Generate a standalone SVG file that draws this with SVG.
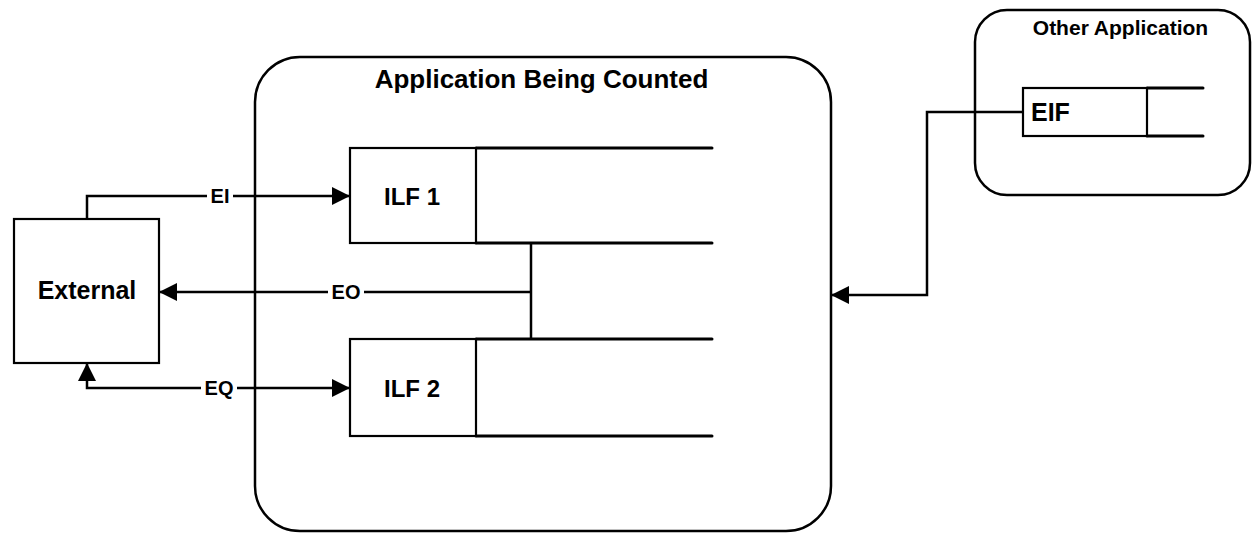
<svg xmlns="http://www.w3.org/2000/svg" width="1252" height="533" viewBox="0 0 1252 533">
  <style>
    text { font-family: "Liberation Sans", Arial, sans-serif; font-weight: bold; fill: #000; }
    .frame { fill: none; stroke: #000; stroke-width: 2.5; }
    .box { fill: #fff; stroke: #000; stroke-width: 2.2; }
    .store { fill: none; stroke: #000; stroke-width: 3; stroke-linecap: round; }
    .wire { fill: none; stroke: #000; stroke-width: 2.5; }
    .lbl-bg { fill: #fff; }
  </style>
  <defs>
    <marker id="arrow" markerUnits="userSpaceOnUse" markerWidth="19" markerHeight="18" refX="18" refY="9" orient="auto-start-reverse">
      <path d="M0,0 L18,9 L0,18 Z" fill="#000"/>
    </marker>
  </defs>

  <!-- boundary of the counted application -->
  <g id="app-counted">
    <rect class="frame" x="255" y="57" width="576" height="474" rx="45" ry="45"/>
    <text x="541.5" y="88" font-size="26" text-anchor="middle">Application Being Counted</text>
  </g>

  <!-- boundary of the other application -->
  <g id="app-other">
    <rect class="frame" x="975" y="10" width="275" height="185" rx="32" ry="32"/>
    <text x="1120.5" y="35" font-size="21" text-anchor="middle">Other Application</text>
  </g>

  <!-- external user / system -->
  <g id="external">
    <rect class="box" x="14" y="219" width="145" height="144"/>
    <text x="87" y="299" font-size="25" text-anchor="middle">External</text>
  </g>

  <!-- internal logical files -->
  <g id="ilf1">
    <line class="store" x1="476" y1="148" x2="712" y2="148"/>
    <line class="store" x1="476" y1="243" x2="712" y2="243"/>
    <rect class="box" x="350" y="148" width="126" height="95"/>
    <text x="412" y="205" font-size="24" text-anchor="middle">ILF 1</text>
  </g>
  <g id="ilf2">
    <line class="store" x1="476" y1="339" x2="712" y2="339"/>
    <line class="store" x1="476" y1="436" x2="712" y2="436"/>
    <rect class="box" x="350" y="339" width="126" height="97"/>
    <text x="412" y="397" font-size="24" text-anchor="middle">ILF 2</text>
  </g>

  <!-- external interface file -->
  <g id="eif">
    <line class="store" x1="1147" y1="88" x2="1203" y2="88"/>
    <line class="store" x1="1147" y1="136" x2="1203" y2="136"/>
    <rect class="box" x="1023" y="88" width="124" height="48"/>
    <text x="1031" y="121" font-size="25">EIF</text>
  </g>

  <!-- transactions -->
  <g id="connectors">
    <path class="wire" d="M87,219 V196 H350" marker-end="url(#arrow)"/>
    <path class="wire" d="M531,243 V339"/>
    <path class="wire" d="M531,292 H159" marker-end="url(#arrow)"/>
    <path class="wire" d="M87,363 V388 H350" marker-start="url(#arrow)" marker-end="url(#arrow)"/>
    <path class="wire" d="M1023,112 H927 V295 H831" marker-end="url(#arrow)"/>

    <rect class="lbl-bg" x="207" y="186" width="26" height="20"/>
    <text x="220" y="203" font-size="20" text-anchor="middle">EI</text>
    <rect class="lbl-bg" x="328" y="282" width="36" height="20"/>
    <text x="346" y="299" font-size="20" text-anchor="middle">EO</text>
    <rect class="lbl-bg" x="201" y="378" width="36" height="20"/>
    <text x="219" y="395" font-size="20" text-anchor="middle">EQ</text>
  </g>
</svg>
